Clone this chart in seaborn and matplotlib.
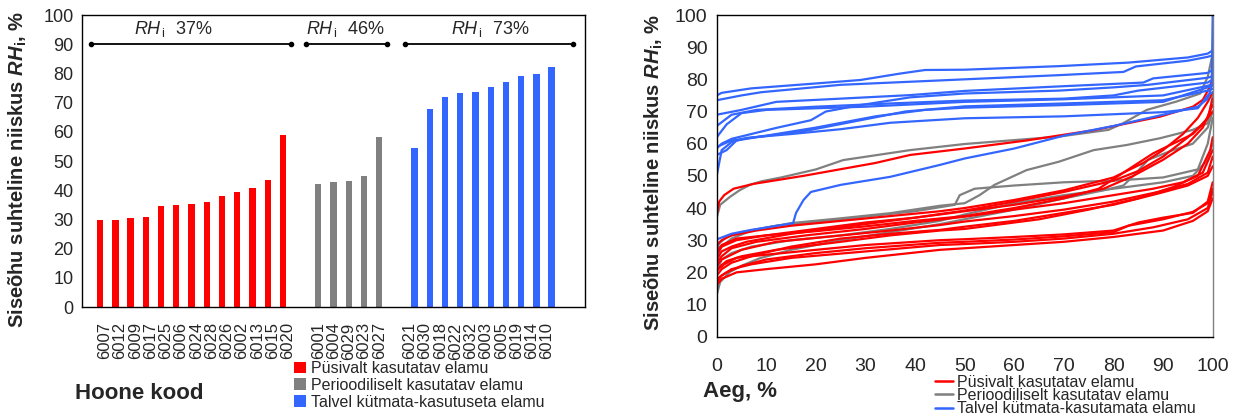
import numpy as np
import pandas as pd
import matplotlib
matplotlib.use("Agg")
import matplotlib.pyplot as plt
import seaborn as sns
from matplotlib.patches import Patch
from matplotlib.lines import Line2D

# ---------------- left chart data ----------------
red_codes = ["6007", "6012", "6009", "6017", "6025", "6006", "6024", "6028",
             "6026", "6002", "6013", "6015", "6020"]
red_vals = [29.8, 29.9, 30.5, 30.9, 34.6, 35.0, 35.3, 35.8, 38.1, 39.4, 40.9, 43.4, 59.0]
gray_codes = ["6001", "6004", "6029", "6023", "6027"]
gray_vals = [42.0, 42.8, 43.0, 45.0, 58.2]
blue_codes = ["6021", "6030", "6018", "6022", "6032", "6003", "6005", "6019", "6014", "6010"]
blue_vals = [54.4, 67.8, 72.0, 73.3, 73.6, 75.4, 77.1, 79.2, 79.9, 82.3]
left_labels = ["Püsivalt kasutatav elamu", "Perioodiliselt kasutatav elamu",
               "Talvel kütmata-kasutuseta elamu"]
group_means = ["37%", "46%", "73%"]

# ---------------- right chart data (duration curves: (time %, RH %)) ----------------
red_01 = [(0, 38), (0.5, 42), (1.5, 44), (3.4, 46), (7.4, 47.5), (17.5, 50), (32, 54), (39, 56.5),
          (50, 58.5), (62.5, 61), (76, 64.2), (89.4, 68.4), (96, 71.5), (98, 73.6), (99.1, 76.7), (100, 80)]
red_02 = [(0, 28.5), (1, 30), (3, 31.5), (8, 33), (15, 34.5), (25, 36), (35, 37.5), (45, 39), (50, 40),
          (60, 42.5), (70, 45.5), (80, 49.5), (86, 54), (90, 58), (94, 63), (97, 68), (99, 73), (100, 76)]
red_03 = [(0, 25.5), (1, 28), (4, 30), (10, 31.5), (20, 33.5), (30, 35.5), (40, 37), (50, 39.2),
          (60, 42), (70, 45), (80, 48.5), (85, 51.5), (90, 56), (95, 62), (98, 66), (100, 70)]
red_04 = [(0, 23), (1, 25), (3, 27.5), (8, 29.5), (18, 31.5), (30, 33.5), (40, 35.5), (50, 37.3),
          (60, 39.5), (70, 41.5), (80, 44), (88, 46), (94, 48), (98, 51), (100, 58)]
red_05 = [(0, 22), (1, 24), (5, 27), (12, 29.5), (22, 31), (35, 33), (45, 34.7), (50, 35.8),
          (60, 37.5), (70, 39.5), (80, 42), (89, 45), (95, 47.5), (99, 51), (100, 56)]
red_06 = [(0, 19), (1, 21), (3, 23), (8, 25.5), (15, 28), (25, 30.5), (35, 32), (45, 33.2), (50, 34.2),
          (60, 36), (70, 38.5), (80, 41), (89, 44.5), (95, 47), (99, 50), (100, 53)]
red_07 = [(0, 20.5), (1.5, 22.5), (4, 24.5), (10, 25.5), (20, 27), (30, 28.5), (45, 30), (50, 30.3),
          (60, 31), (70, 31.8), (80, 33), (85, 35.5), (90, 37), (96, 38.5), (99, 42), (100, 48)]
red_08 = [(0, 18), (2, 20), (5, 22), (10, 24), (20, 26), (30, 27.5), (45, 29.2), (50, 29.5), (60, 30.2),
          (70, 31.2), (80, 32.5), (83, 34.5), (90, 36.5), (96, 38.8), (99, 41.5), (100, 46)]
red_09 = [(0, 17), (1, 19), (3, 21), (7, 22.5), (15, 24.5), (30, 26.5), (45, 28.5), (50, 28.8),
          (60, 29.5), (70, 30.5), (80, 32), (88, 34), (95, 36.5), (99, 40), (100, 45)]
red_10 = [(0, 16), (1, 18), (4, 20), (10, 21), (20, 22.5), (30, 24.5), (45, 27), (50, 27.5),
          (60, 28.5), (70, 29.5), (80, 31), (90, 33), (96, 36), (99, 39), (100, 43)]
red_11 = [(0, 24), (1, 26.5), (3, 28), (6, 29.5), (15, 32), (25, 34), (35, 36), (45, 38), (50, 39),
          (60, 41), (70, 43.5), (78, 46), (84, 50), (90, 55), (95, 60), (98, 65), (100, 72)]
red_12 = [(0, 21), (2, 23.5), (5, 25), (12, 27), (25, 29.5), (35, 31.5), (45, 33), (50, 33.5),
          (65, 36.5), (75, 39.5), (85, 43), (92, 46.5), (97, 50), (99.5, 58), (100, 62)]
red_13 = [(0, 26.5), (1, 28.5), (4, 30.5), (10, 31.5), (20, 32.8), (30, 34.3), (40, 36), (50, 37.5),
          (60, 40), (70, 43), (77, 46), (83, 52), (88, 57), (92, 60), (96, 63), (99, 68), (100, 74)]

gray_01 = [(0, 37), (0.7, 41), (2.7, 43.5), (4.7, 45.6), (6.7, 47.2), (9, 48.3), (13, 49.5), (20, 52),
           (25.5, 54.9), (39, 58), (50, 59.9), (69, 62.2), (79, 64.3), (82, 66.4), (86.7, 70.5),
           (92.7, 73.1), (97.5, 75.6), (99, 80.8), (100, 88)]
gray_02 = [(0, 25), (1, 28), (3, 30.5), (7, 33), (15, 35.3), (25, 36.8), (35, 38.4), (45, 40.7),
           (50, 41.5), (53, 44), (56, 47.2), (62.5, 51.8), (69, 54.4), (76, 58), (82.7, 59.6),
           (89.4, 61.7), (96, 64.3), (99, 66.4), (100, 75)]
gray_03 = [(0, 13), (0.7, 17), (2.7, 20.2), (5.4, 22.3), (8.7, 24.4), (15, 27), (25, 30), (35, 32.5),
           (45, 35), (50, 36.5), (60, 39.5), (70, 43), (78, 45.5), (82, 47), (84, 50), (87, 55),
           (92, 58), (96, 60), (99, 65), (100, 70)]
gray_04 = [(0, 20), (1, 24), (3, 26), (7, 28), (15, 30), (25, 31.5), (35, 33.5), (45, 36), (50, 38),
           (60, 41.5), (70, 44), (80, 46), (90, 48), (96, 50), (99, 55), (100, 60)]
gray_05 = [(0, 27), (0.5, 29), (2, 31), (5, 32.5), (12, 34.5), (25, 36.5), (40, 39), (48, 41),
           (49, 44), (52, 46), (60, 47), (70, 48), (80, 48.5), (90, 49.5), (97, 52), (99, 60), (100, 68)]

blue_01 = [(0, 75), (1, 75.8), (7, 77.2), (19, 78.6), (29, 79.8), (37, 81.8), (42, 82.9), (50, 83),
           (69, 84.1), (83, 85.2), (95, 86.8), (99, 88), (100, 89)]
blue_02 = [(0, 73.5), (5, 75), (9, 76), (25, 78.3), (50, 80), (69, 81.3), (82, 82.3), (84.5, 84),
           (95, 85.8), (99, 87), (100, 87.5)]
blue_03 = [(0, 69), (5, 70.5), (12, 73), (25, 74), (39, 75.1), (50, 76.4), (69, 77.8), (86, 79),
           (88, 80.3), (99, 82), (100, 83)]
blue_04 = [(0, 58.5), (1, 60), (3, 61.5), (12, 64.9), (19, 67.3), (22, 70), (29, 72), (39, 74.4),
           (50, 75.6), (69, 76.5), (80, 77.5), (87, 78.3), (99, 80.5), (100, 81)]
blue_05 = [(0, 65.5), (3, 69), (8, 70.5), (20, 71.5), (35, 72.5), (50, 73.4), (70, 74), (80, 75),
           (85, 76.5), (99, 79), (100, 80)]
blue_06 = [(0, 62), (2, 66), (5, 69.5), (10, 70.5), (30, 71.5), (50, 73), (70, 73.8), (90, 75),
           (99, 78), (100, 78.5)]
blue_07 = [(0, 56.5), (2, 58), (4, 61), (8, 62), (18, 64), (28, 67), (38, 70), (50, 71.6), (70, 72.5),
           (90, 73.5), (99, 76.5), (100, 77)]
blue_08 = [(0, 50), (1, 58), (3, 60.5), (6, 61.8), (15, 63), (25, 64.5), (35, 66.5), (50, 67.9),
           (70, 68.5), (90, 69.8), (97, 71), (99, 75), (100, 76)]
blue_09 = [(0, 59), (3, 61), (10, 62.5), (20, 65), (32, 68.5), (42, 70.5), (50, 71.2), (70, 72),
           (90, 73), (99, 77.5), (100, 78)]
blue_10 = [(0, 10), (0.1, 30.3), (3, 32), (7, 33.2), (15.4, 35.3), (16, 38.5), (17.5, 42.5), (19, 45),
           (25, 47.2), (35, 49.7), (45, 53.4), (50, 55.4), (60, 58.5), (70, 62.5), (80, 65.5),
           (90, 69), (97, 71.5), (99, 74), (99.8, 78), (100, 100)]

red_curves = [red_01, red_02, red_03, red_04, red_05, red_06, red_07, red_08, red_09,
              red_10, red_11, red_12, red_13]
gray_curves = [gray_01, gray_02, gray_03, gray_04, gray_05]
blue_curves = [blue_01, blue_02, blue_03, blue_04, blue_05, blue_06, blue_07, blue_08,
               blue_09, blue_10]
right_labels = ["Püsivalt kasutatav elamu", "Perioodiliselt kasutatav elamu",
                "Talvel kütmata-kasutamata elamu"]

# ---------------- style ----------------
sns.set_style("white")
plt.rcParams['font.family'] = ['Liberation Sans', 'DejaVu Sans']
plt.rcParams['mathtext.fontset'] = 'custom'
plt.rcParams['mathtext.rm'] = 'Liberation Sans'
plt.rcParams['mathtext.it'] = 'Liberation Sans:italic'
plt.rcParams['mathtext.bf'] = 'Liberation Sans:bold'
plt.rcParams['mathtext.bfit'] = 'Liberation Sans:italic:bold'

RED, GRAY, BLUE = '#FF0000', '#808080', '#3366FF'
colors = [RED, GRAY, BLUE]

W, H = 1236, 417
fig = plt.figure(figsize=(W / 100, H / 100), dpi=100)
ax1 = fig.add_axes([82 / W, 1 - 307 / H, 503 / W, 292 / H])
ax2 = fig.add_axes([716.7 / W, 1 - 336.7 / H, 496 / W, 321.7 / H])

# ---------------- left chart ----------------
rows = []
n_slots = 33
tick_labels = [""] * n_slots
slot = 1
for name, codes, vals in zip(left_labels, [red_codes, gray_codes, blue_codes],
                             [red_vals, gray_vals, blue_vals]):
    for c, v in zip(codes, vals):
        rows.append({"slot": slot, "code": c, "value": v, "group": name})
        tick_labels[slot] = c
        slot += 1
    slot += 1
df_bars = pd.DataFrame(rows)

sns.barplot(data=df_bars, x="slot", y="value", hue="group", hue_order=left_labels,
            palette=colors, saturation=1, native_scale=True, dodge=True, width=0.93,
            linewidth=0, errorbar=None, legend=False, ax=ax1)
for p in ax1.patches:
    cx = p.get_x() + p.get_width() / 2
    p.set_width(0.41)
    p.set_x(cx - 0.205)

ax1.set_xlim(-0.5, n_slots - 0.5)
ax1.set_ylim(0, 100)
ax1.set_yticks(np.arange(0, 101, 10))
ax1.set_xticks(np.arange(n_slots))
ax1.set_xticklabels(tick_labels, rotation=90, fontsize=12)
ax1.set_xticks(np.arange(n_slots + 1) - 0.5, minor=True)
ax1.tick_params(axis='x', which='major', length=0, pad=11)
ax1.tick_params(axis='x', which='minor', length=3.6, width=1, color='black', direction='out')
ax1.tick_params(axis='y', length=3.6, width=1, color='black', direction='out', labelsize=13, pad=2.5)
for s in ax1.spines.values():
    s.set_color('black')
    s.set_linewidth(1)
ax1.set_xlabel("")
ax1.set_ylabel(r"Siseõhu suhteline niiskus $\mathbfit{RH}_{\mathbf{i}}$, %",
               fontsize=14.5, fontweight='bold')
ax1.yaxis.set_label_coords(-0.105, 0.47)

# group annotations
spans = [(0.09, 13.18), (14.2, 19.54), (20.68, 31.68)]
text_x = [5.47, 16.76, 26.3]
for (x0, x1), xt, m in zip(spans, text_x, group_means):
    ax1.plot([x0, x1], [90, 90], color='black', lw=1.3, marker='o', ms=3, clip_on=False)
    ax1.text(xt, 95.3, r"$\mathit{RH}_{\,\mathrm{i}}$  " + m, ha='center', va='center', fontsize=13)

fig.text(75 / W, 1 - 399 / H, "Hoone kood", fontsize=16, fontweight='bold',
         ha='left', va='baseline')
left_handles = [Patch(facecolor=c, edgecolor='none') for c in colors]
fig.legend(left_handles, left_labels, loc='upper left', bbox_to_anchor=(294 / W, 1 - 361 / H),
           frameon=False, fontsize=11.5, handlelength=0.75, handleheight=0.75,
           handletextpad=0.3, borderpad=0, borderaxespad=0, labelspacing=0.12)

# ---------------- right chart ----------------
rows2 = []
cid = 0
for name, curves in zip(right_labels, [red_curves, gray_curves, blue_curves]):
    for crv in curves:
        for x, y in crv:
            rows2.append({"curve": cid, "group": name, "t": x, "rh": y})
        cid += 1
df_lines = pd.DataFrame(rows2)
pal = dict(zip(right_labels, colors))
sns.lineplot(data=df_lines, x="t", y="rh", hue="group",
             hue_order=[right_labels[1], right_labels[0], right_labels[2]],
             palette=pal, units="curve", estimator=None, sort=False, linewidth=1.6,
             legend=False, ax=ax2)

ax2.set_xlim(0, 100)
ax2.set_ylim(0, 100)
ax2.set_xticks(np.arange(0, 101, 10))
ax2.set_yticks(np.arange(0, 101, 10))
ax2.tick_params(axis='both', length=3.6, width=1, color='black', direction='out', labelsize=14)
ax2.tick_params(axis='x', pad=12)
ax2.tick_params(axis='y', pad=3)
for s in ax2.spines.values():
    s.set_color('black')
    s.set_linewidth(1)
ax2.spines['right'].set_color(GRAY)
ax2.set_xlabel("")
ax2.set_ylabel(r"Siseõhu suhteline niiskus $\mathbfit{RH}_{\mathbf{i}}$, %",
               fontsize=14.5, fontweight='bold')
ax2.yaxis.set_label_coords(-0.104, 0.509)

fig.text(703 / W, 1 - 397 / H, "Aeg, %", fontsize=16, fontweight='bold',
         ha='left', va='baseline')
right_handles = [Line2D([0], [0], color=c, lw=1.8) for c in colors]
fig.legend(right_handles, right_labels, loc='upper left', bbox_to_anchor=(935 / W, 1 - 375 / H),
           frameon=False, fontsize=11.5, handlelength=1.1, handletextpad=0.25,
           borderpad=0, borderaxespad=0, labelspacing=-0.12)

fig.savefig("out.png", dpi=100)
